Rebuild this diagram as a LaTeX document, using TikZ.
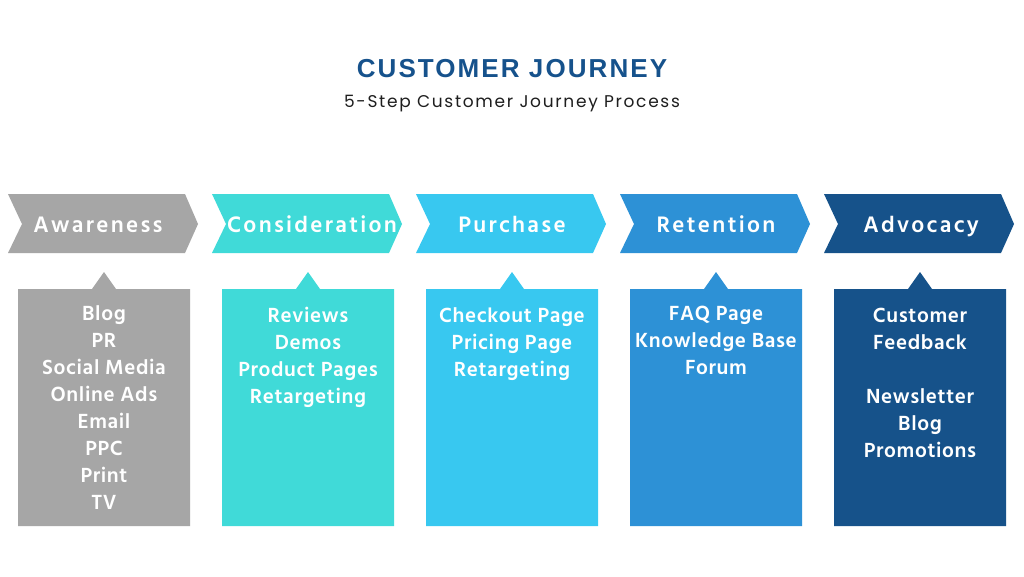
\documentclass[tikz,border=0pt]{standalone}
\usepackage{fontspec}
\setmainfont{Hind Siliguri}
\newfontfamily\titlefont[LetterSpace=8]{Liberation Sans}
\newfontfamily\subfont[LetterSpace=10]{Poppins}
\newfontfamily\labfont[LetterSpace=10]{Hind Siliguri}
\newfontfamily\itemfont[LetterSpace=3]{Hind Siliguri}
\definecolor{cgray}{RGB}{166,166,166}
\definecolor{cteal}{RGB}{64,218,216}
\definecolor{csky}{RGB}{56,200,240}
\definecolor{cblue}{RGB}{45,145,214}
\definecolor{cdark}{RGB}{22,82,138}
\definecolor{ctitle}{RGB}{22,82,140}
\definecolor{csub}{RGB}{30,30,30}
\begin{document}
\begin{tikzpicture}[x=1pt,y=-1pt,
  steplabel/.style={text=white,font=\labfont\bfseries\fontsize{23}{27}\selectfont,inner sep=0pt,text height=16pt,text depth=4pt},
  item/.style={text=white,font=\itemfont\bfseries\fontsize{21}{25}\selectfont,inner sep=0pt,text height=15pt,text depth=4pt},
]
\useasboundingbox (0,0) rectangle (1024,576);
\fill[white] (0,0) rectangle (1024,576);
\node[text=ctitle,font=\titlefont\bfseries\fontsize{26}{30}\selectfont] (title) at (512,69) {CUSTOMER JOURNEY};
\node[text=csub,font=\subfont\fontsize{17}{20}\selectfont] (subtitle) at (512,104) {5-Step Customer Journey Process};
\foreach \i/\c/\lab/\dx in {0/cgray/Awareness/-6,1/cteal/Consideration/4,2/csky/Purchase/0,3/cblue/Retention/0,4/cdark/Advocacy/1}{
  \pgfmathsetmacro\xo{8+204*\i}
  \fill[\c] (\xo,194) -- (\xo+177,194) -- (\xo+190,224) -- (\xo+177,253) -- (\xo,253) -- (\xo+14,224) -- cycle;
  \node[steplabel] (lab\i) at (\xo+96+\dx,226) {\lab};
  \fill[\c] (\xo+10,289) -- (\xo+84,289) -- (\xo+96,272) -- (\xo+108,289) -- (\xo+182,289) -- (\xo+182,526) -- (\xo+10,526) -- cycle;
}
\foreach \t [count=\k from 0] in {Blog,PR,Social Media,Online Ads,Email,PPC,Print,TV}
  \node[item] (a\k) at (104,315+27*\k) {\t};
\foreach \t [count=\k from 0] in {Reviews,Demos,Product Pages,Retargeting}
  \node[item] (b\k) at (308,317+27*\k) {\t};
\foreach \t [count=\k from 0] in {Checkout Page,Pricing Page,Retargeting}
  \node[item] (c\k) at (512,317+27*\k) {\t};
\foreach \t [count=\k from 0] in {FAQ Page,Knowledge Base,Forum}
  \node[item] (d\k) at (716,315+27*\k) {\t};
\node[item] (e0) at (920,317) {Customer};
\node[item] (e1) at (920,344) {Feedback};
\node[item] (e2) at (920,398) {Newsletter};
\node[item] (e3) at (920,425) {Blog};
\node[item] (e4) at (920,452) {Promotions};
\end{tikzpicture}
\end{document}
